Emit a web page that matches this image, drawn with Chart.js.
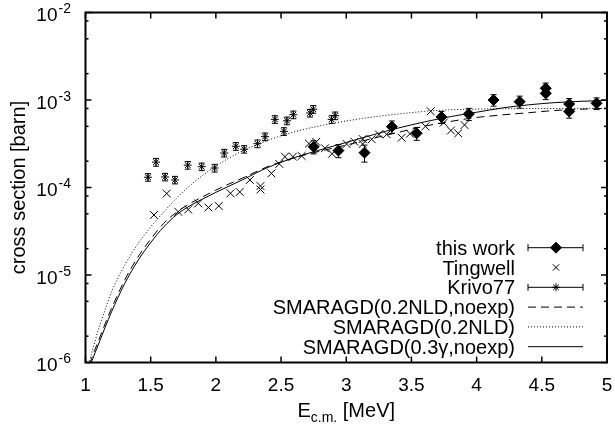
<!DOCTYPE html>
<html>
<head>
<meta charset="utf-8">
<title>cross section</title>
<script src="https://cdn.jsdelivr.net/npm/chart.js@4.4.1/dist/chart.umd.min.js"></script>
<style>
  html, body { margin: 0; padding: 0; background: #fff; }
  #wrap { width: 615px; height: 429px; }
</style>
</head>
<body>
<div id="wrap"><canvas id="chart" width="615" height="429"></canvas></div>
<script>
// Measured points (E in MeV, cross section in barn)
const thisWorkE = [2.75, 2.94, 3.14, 3.35, 3.54, 3.73, 3.94, 4.13, 4.33, 4.53, 4.53, 4.71, 4.71, 4.92];
const thisWorkSigma = [2.92e-4, 2.64e-4, 2.50e-4, 4.96e-4, 4.16e-4, 6.40e-4, 6.92e-4, 1.00e-3, 9.57e-4, 1.36e-3, 1.19e-3, 9.0e-4, 7.4e-4, 9.17e-4];
const thisWorkErr = [0.50e-4, 0.45e-4, 0.55e-4, 0.80e-4, 0.70e-4, 1.0e-4, 1.1e-4, 1.5e-4, 1.5e-4, 2.0e-4, 1.8e-4, 1.4e-4, 1.2e-4, 1.4e-4];

const tingwellE = [1.525, 1.623, 1.712, 1.788, 1.865, 1.943, 2.022, 2.112, 2.183, 2.261, 2.342, 2.342, 2.426, 2.486, 2.530, 2.591, 2.658, 2.714, 2.770, 2.837, 2.892, 3.003, 3.063, 3.126, 3.126, 3.195, 3.251, 3.310, 3.425, 3.489, 3.607, 3.648, 3.748, 3.803, 3.859, 3.907];
const tingwellSigma = [4.85e-5, 8.53e-5, 5.28e-5, 5.61e-5, 6.59e-5, 5.91e-5, 6.15e-5, 8.59e-5, 8.89e-5, 1.22e-4, 1.04e-4, 9.49e-5, 1.45e-4, 1.86e-4, 2.25e-4, 2.25e-4, 2.29e-4, 3.17e-4, 3.33e-4, 2.81e-4, 2.43e-4, 3.14e-4, 3.33e-4, 3.58e-4, 3.14e-4, 3.56e-4, 4.04e-4, 4.06e-4, 3.71e-4, 4.12e-4, 5.00e-4, 7.43e-4, 5.51e-4, 4.48e-4, 4.16e-4, 5.18e-4];

const krivoE = [1.479, 1.541, 1.610, 1.686, 1.784, 1.891, 1.991, 2.064, 2.153, 2.217, 2.319, 2.377, 2.453, 2.522, 2.545, 2.594, 2.722, 2.747, 2.888, 2.915];
const krivoSigma = [1.31e-4, 1.95e-4, 1.32e-4, 1.22e-4, 1.80e-4, 1.73e-4, 1.67e-4, 2.48e-4, 2.96e-4, 2.74e-4, 3.17e-4, 3.81e-4, 6.01e-4, 4.38e-4, 5.79e-4, 6.79e-4, 7.10e-4, 7.85e-4, 6.01e-4, 6.62e-4];
const krivoErr = [1.3e-5, 2.0e-5, 1.3e-5, 1.2e-5, 1.8e-5, 1.7e-5, 1.7e-5, 2.5e-5, 3.0e-5, 2.7e-5, 3.2e-5, 3.8e-5, 6.0e-5, 4.4e-5, 5.8e-5, 6.8e-5, 7.1e-5, 7.9e-5, 6.0e-5, 6.6e-5];

// SMARAGD model curves
const modelE = [1.0, 1.05, 1.1, 1.15, 1.2, 1.3, 1.4, 1.5, 1.6, 1.7, 1.8, 1.9, 2.0, 2.1, 2.2, 2.4, 2.6, 2.8, 3.0, 3.2, 3.4, 3.6, 3.8, 4.0, 4.2, 4.4, 4.6, 4.8, 5.0];
const smaragdNldNoexp = [6.918e-7, 1.148e-6, 1.778e-6, 2.754e-6, 4.169e-6, 8.710e-6, 1.585e-5, 2.570e-5, 3.890e-5, 5.248e-5, 6.531e-5, 7.852e-5, 9.333e-5, 1.096e-4, 1.274e-4, 1.738e-4, 2.188e-4, 2.600e-4, 3.055e-4, 3.631e-4, 4.266e-4, 5.012e-4, 5.689e-4, 6.310e-4, 6.761e-4, 7.161e-4, 7.586e-4, 7.852e-4, 8.035e-4];
const smaragdNld = [7.079e-7, 1.318e-6, 2.399e-6, 3.981e-6, 6.457e-6, 1.288e-5, 2.239e-5, 3.548e-5, 5.248e-5, 7.586e-5, 1.047e-4, 1.380e-4, 1.758e-4, 2.163e-4, 2.600e-4, 3.467e-4, 4.315e-4, 5.070e-4, 5.754e-4, 6.383e-4, 6.918e-4, 7.413e-4, 7.727e-4, 7.870e-4, 7.943e-4, 7.980e-4, 7.998e-4, 8.017e-4, 8.035e-4];
const smaragdGammaNoexp = [6.31e-7, 1.047e-6, 1.622e-6, 2.512e-6, 3.802e-6, 7.943e-6, 1.445e-5, 2.344e-5, 3.548e-5, 4.898e-5, 6.166e-5, 7.413e-5, 8.810e-5, 1.035e-4, 1.216e-4, 1.698e-4, 2.188e-4, 2.692e-4, 3.273e-4, 3.981e-4, 4.786e-4, 5.623e-4, 6.457e-4, 7.244e-4, 8.128e-4, 8.810e-4, 9.333e-4, 9.661e-4, 9.886e-4];

// axis ticks
const xTicks = [1, 1.5, 2, 2.5, 3, 3.5, 4, 4.5, 5];
const yMajorTicks = [1e-6, 1e-5, 1e-4, 1e-3, 1e-2];
const yMinorTicks = [2e-6, 5e-6, 8e-6, 2e-5, 5e-5, 8e-5, 2e-4, 5e-4, 8e-4, 2e-3, 5e-3, 8e-3];

const FONT = "'Liberation Sans', Arial, Helvetica, sans-serif";
const toPoints = (xs, ys) => xs.map((x, i) => ({ x: x, y: ys[i] }));

function strokeLine(ctx, x0, y0, x1, y1) {
    ctx.beginPath();
    ctx.moveTo(x0, y0);
    ctx.lineTo(x1, y1);
    ctx.stroke();
}

// vertical error bars with caps, for datasets that carry errorBars
const errorBarPlugin = {
    id: 'errorBars',
    afterDatasetsDraw(chart) {
        const ctx = chart.ctx;
        const ys = chart.scales.y;
        chart.data.datasets.forEach((ds, i) => {
            if (!ds.errorBars) return;
            const meta = chart.getDatasetMeta(i);
            ctx.save();
            ctx.strokeStyle = '#000';
            ctx.lineWidth = 1;
            meta.data.forEach((pt, j) => {
                const v = ds.data[j].y;
                const e = ds.errorBars[j];
                const top = ys.getPixelForValue(v + e);
                const bot = ys.getPixelForValue(v - e);
                strokeLine(ctx, pt.x, top, pt.x, bot);
                strokeLine(ctx, pt.x - 3, top, pt.x + 3, top);
                strokeLine(ctx, pt.x - 3, bot, pt.x + 3, bot);
            });
            ctx.restore();
        });
    }
};

// frame, ticks, tick labels, titles and key
const framePlugin = {
    id: 'frame',
    afterDraw(chart) {
        const ctx = chart.ctx;
        const { left, right, top, bottom } = chart.chartArea;
        const xs = chart.scales.x, ys = chart.scales.y;
        ctx.save();
        ctx.strokeStyle = '#000';
        ctx.fillStyle = '#000';

        ctx.lineWidth = 1.5;
        xTicks.forEach(v => {
            const px = xs.getPixelForValue(v);
            strokeLine(ctx, px, bottom, px, bottom - 6);
            strokeLine(ctx, px, top, px, top + 6);
        });
        yMajorTicks.forEach(v => {
            const py = ys.getPixelForValue(v);
            strokeLine(ctx, left, py, left + 6, py);
            strokeLine(ctx, right, py, right - 6, py);
        });
        yMinorTicks.forEach(v => {
            const py = ys.getPixelForValue(v);
            strokeLine(ctx, left, py, left + 3, py);
            strokeLine(ctx, right, py, right - 3, py);
        });

        ctx.lineWidth = 2;
        ctx.strokeRect(left, top, right - left, bottom - top);

        // x tick labels
        ctx.font = '19px ' + FONT;
        ctx.textAlign = 'center';
        ctx.textBaseline = 'alphabetic';
        xTicks.forEach(v => {
            ctx.fillText(String(v), xs.getPixelForValue(v), bottom + 28);
        });

        // y tick labels as 10^n
        yMajorTicks.forEach(v => {
            const py = ys.getPixelForValue(v);
            const exp = String(Math.round(Math.log10(v)));
            ctx.font = '19px ' + FONT;
            ctx.textAlign = 'right';
            ctx.fillText('10', left - 28, py + 8.5);
            ctx.font = '14px ' + FONT;
            ctx.textAlign = 'left';
            ctx.fillText(exp, left - 27, py + 0.5);
        });

        // x title with subscript
        const main = 'E', sub = 'c.m.', tail = ' [MeV]';
        ctx.font = '20px ' + FONT;
        const wMain = ctx.measureText(main).width;
        const wTail = ctx.measureText(tail).width;
        ctx.font = '14px ' + FONT;
        const wSub = ctx.measureText(sub).width;
        let tx = (left + right) / 2 - (wMain + wSub + wTail) / 2;
        ctx.textAlign = 'left';
        ctx.font = '20px ' + FONT;
        ctx.fillText(main, tx, bottom + 54);
        ctx.font = '14px ' + FONT;
        ctx.fillText(sub, tx + wMain, bottom + 59);
        ctx.font = '20px ' + FONT;
        ctx.fillText(tail, tx + wMain + wSub, bottom + 54);

        // y title
        ctx.save();
        ctx.translate(19, (top + bottom) / 2);
        ctx.rotate(-Math.PI / 2);
        ctx.textAlign = 'center';
        ctx.textBaseline = 'middle';
        ctx.font = '20px ' + FONT;
        ctx.fillText('cross section [barn]', 0, 0);
        ctx.restore();

        // key
        const keyRight = 515, s0 = 528, s1 = 583, sMid = 556;
        const rowTop = 247.7, rowStep = 19.8;
        chart.data.datasets.forEach((ds, i) => {
            const ry = rowTop + i * rowStep;
            ctx.font = '20px ' + FONT;
            ctx.textAlign = 'right';
            ctx.textBaseline = 'alphabetic';
            ctx.fillStyle = '#000';
            ctx.fillText(ds.label, keyRight, ry + 7);
            ctx.lineWidth = 1;
            ctx.strokeStyle = '#000';
            if (ds.errorBars) {
                strokeLine(ctx, s0, ry, s1, ry);
                strokeLine(ctx, s0, ry - 3.5, s0, ry + 3.5);
                strokeLine(ctx, s1, ry - 3.5, s1, ry + 3.5);
            }
            if (ds.showLine) {
                ctx.save();
                ctx.setLineDash(ds.borderDash || []);
                strokeLine(ctx, s0, ry, s1, ry);
                ctx.restore();
            }
            if (ds.pointRadius > 0) {
                ctx.fillStyle = ds.backgroundColor;
                ctx.strokeStyle = ds.borderColor;
                ctx.lineWidth = ds.borderWidth;
                Chart.helpers.drawPoint(ctx, {
                    pointStyle: ds.pointStyle,
                    radius: ds.keyRadius || ds.pointRadius,
                    rotation: 0,
                    borderWidth: ds.borderWidth
                }, sMid, ry);
            }
        });
        ctx.restore();
    }
};

const ctx = document.getElementById('chart').getContext('2d');
new Chart(ctx, {
    type: 'scatter',
    data: {
        datasets: [
            {
                label: 'this work',
                data: toPoints(thisWorkE, thisWorkSigma),
                errorBars: thisWorkErr,
                pointStyle: 'rectRot',
                pointRadius: 5.5,
                keyRadius: 5.5,
                backgroundColor: '#000',
                borderColor: '#000',
                borderWidth: 1,
                showLine: false
            },
            {
                label: 'Tingwell',
                data: toPoints(tingwellE, tingwellSigma),
                pointStyle: 'crossRot',
                pointRadius: 5.5,
                keyRadius: 4.5,
                backgroundColor: '#000',
                borderColor: '#000',
                borderWidth: 1,
                showLine: false
            },
            {
                label: 'Krivo77',
                data: toPoints(krivoE, krivoSigma),
                errorBars: krivoErr,
                pointStyle: 'star',
                pointRadius: 4,
                backgroundColor: '#000',
                borderColor: '#000',
                borderWidth: 1,
                showLine: false
            },
            {
                label: 'SMARAGD(0.2NLD,noexp)',
                data: toPoints(modelE, smaragdNldNoexp),
                showLine: true,
                pointRadius: 0,
                borderColor: '#000',
                borderWidth: 1,
                borderDash: [8, 5],
                cubicInterpolationMode: 'monotone'
            },
            {
                label: 'SMARAGD(0.2NLD)',
                data: toPoints(modelE, smaragdNld),
                showLine: true,
                pointRadius: 0,
                borderColor: '#000',
                borderWidth: 1,
                borderDash: [1, 2],
                cubicInterpolationMode: 'monotone'
            },
            {
                label: 'SMARAGD(0.3\u03b3,noexp)',
                data: toPoints(modelE, smaragdGammaNoexp),
                showLine: true,
                pointRadius: 0,
                borderColor: '#000',
                borderWidth: 1,
                cubicInterpolationMode: 'monotone'
            }
        ]
    },
    options: {
        responsive: false,
        animation: false,
        events: [],
        layout: { padding: { left: 85.5, top: 12.5, right: 8, bottom: 66.5 } },
        plugins: {
            legend: { display: false },
            tooltip: { enabled: false }
        },
        scales: {
            x: { type: 'linear', display: false, min: 1, max: 5 },
            y: { type: 'logarithmic', display: false, min: 1e-6, max: 1e-2 }
        }
    },
    plugins: [errorBarPlugin, framePlugin]
});
</script>
</body>
</html>
